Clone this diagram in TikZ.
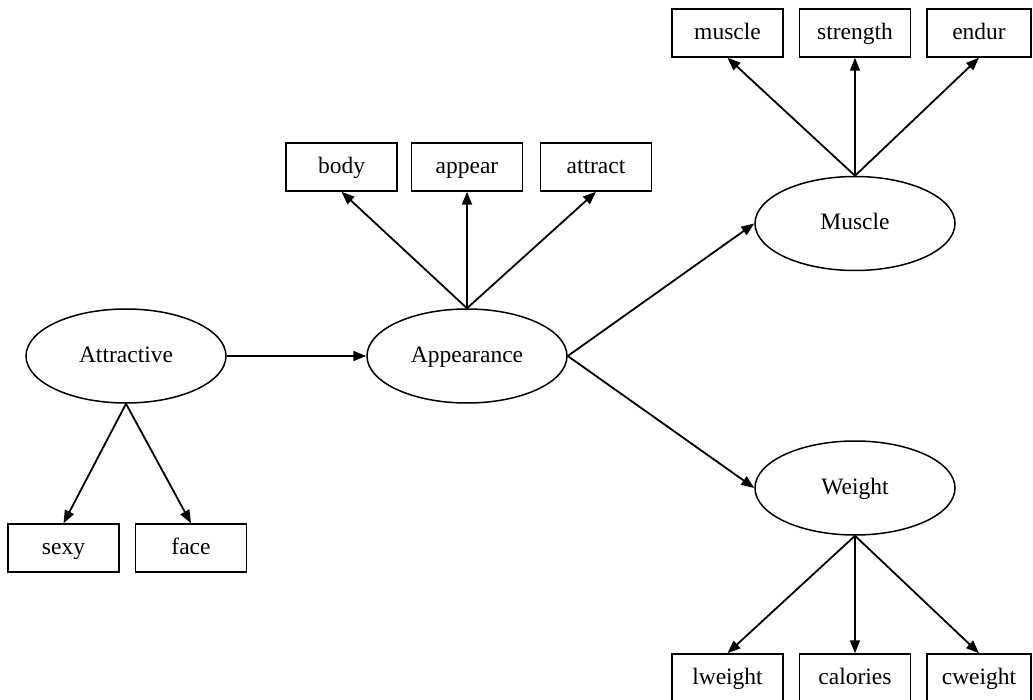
\documentclass[tikz,border=0pt]{standalone}
\usepackage{fontspec}
\setmainfont{Liberation Serif}
\usetikzlibrary{shapes.geometric,arrows.meta}
\begin{document}
\begin{tikzpicture}[x=1pt,y=-1pt,
  every node/.style={font=\fontsize{23.5}{28}\selectfont,text height=17pt,text depth=4pt},
  latent/.style={draw,line width=1.5pt,ellipse,minimum width=200pt,minimum height=94pt,inner sep=0pt},
  obs/.style={draw,line width=1.5pt,rectangle,minimum width=111pt,minimum height=48pt,inner sep=0pt},
  obsn/.style={draw,line width=1.5pt,rectangle,minimum width=104pt,minimum height=48pt,inner sep=0pt},
  link/.style={line width=1.8pt,-{Triangle[length=13pt,width=10pt]}}]
\useasboundingbox (0,0) rectangle (1033,700);
% latent variables
\node[latent] (attractive) at (126,356) {Attractive};
\node[latent] (appearance) at (467,356) {Appearance};
\node[latent] (musclel) at (855,223.5) {Muscle};
\node[latent] (weightl) at (855,488) {Weight};
% observed variables
\node[obs] (muscle) at (727.5,33) {muscle};
\node[obs] (strength) at (855,33) {strength};
\node[obsn] (endur) at (979,33) {endur};
\node[obs] (body) at (341.5,167) {body};
\node[obs] (appear) at (467,167) {appear};
\node[obs] (attract) at (596,167) {attract};
\node[obs] (sexy) at (63.5,548) {sexy};
\node[obs] (face) at (191,548) {face};
\node[obs] (lweight) at (727.5,678) {lweight};
\node[obs] (calories) at (855,678) {calories};
\node[obsn] (cweight) at (979,678) {cweight};
% structural paths
\draw[link] (attractive.east) -- (appearance.west);
\draw[link] (appearance.east) -- (musclel.west);
\draw[link] (appearance.east) -- (weightl.west);
% measurement paths
\draw[link] (appearance.north) -- (body.south);
\draw[link] (appearance.north) -- (appear.south);
\draw[link] (appearance.north) -- (attract.south);
\draw[link] (musclel.north) -- (muscle.south);
\draw[link] (musclel.north) -- (strength.south);
\draw[link] (musclel.north) -- (endur.south);
\draw[link] (attractive.south) -- (sexy.north);
\draw[link] (attractive.south) -- (face.north);
\draw[link] (weightl.south) -- (lweight.north);
\draw[link] (weightl.south) -- (calories.north);
\draw[link] (weightl.south) -- (cweight.north);
\end{tikzpicture}
\end{document}
